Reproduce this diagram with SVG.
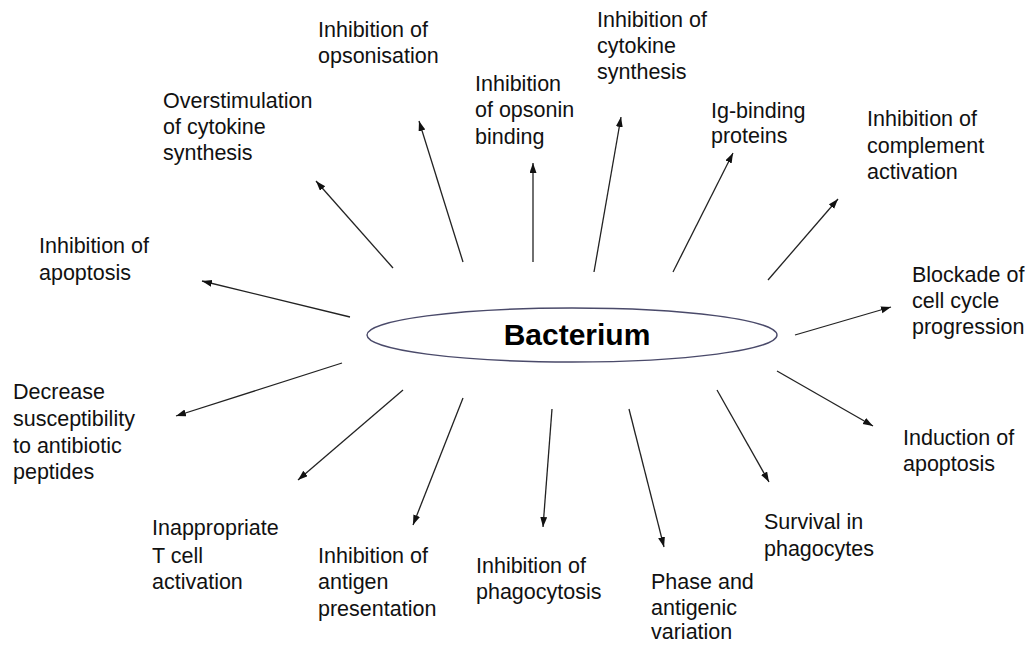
<svg xmlns="http://www.w3.org/2000/svg" width="1031" height="645" viewBox="0 0 1031 645">
<style>
.lbl{font-family:"Liberation Sans",Arial,sans-serif;font-size:21.5px;fill:#111}
.ttl{font-family:"Liberation Sans",Arial,sans-serif;font-size:30px;font-weight:bold;fill:#000}
.arr{stroke:#222;stroke-width:1.3;fill:none;marker-end:url(#ah)}
</style>
<defs>
<marker id="ah" markerUnits="userSpaceOnUse" markerWidth="11" markerHeight="8" refX="10" refY="3.5" orient="auto">
<path d="M0,0 L10,3.5 L0,7 z" fill="#111"/>
</marker>
</defs>
<rect width="1031" height="645" fill="#fff"/>
<g id="bacterium">
<ellipse cx="572" cy="335" rx="205" ry="27" fill="#fff" stroke="#4a4a6a" stroke-width="1.4"/>
<text class="ttl" x="577" y="345" text-anchor="middle">Bacterium</text>
</g>
<g id="connectors">
<line class="arr" x1="393" y1="268" x2="316" y2="181"/>
<line class="arr" x1="463" y1="262" x2="419" y2="121"/>
<line class="arr" x1="533" y1="262" x2="533" y2="163"/>
<line class="arr" x1="594" y1="272" x2="621" y2="117"/>
<line class="arr" x1="673" y1="272" x2="733" y2="153"/>
<line class="arr" x1="768" y1="280" x2="838" y2="199"/>
<line class="arr" x1="795" y1="335" x2="891" y2="307"/>
<line class="arr" x1="777" y1="371" x2="873" y2="426"/>
<line class="arr" x1="717" y1="390" x2="769" y2="482"/>
<line class="arr" x1="629" y1="409" x2="664" y2="547"/>
<line class="arr" x1="552" y1="409" x2="543" y2="527"/>
<line class="arr" x1="463" y1="398" x2="413" y2="525"/>
<line class="arr" x1="403" y1="390" x2="298" y2="480"/>
<line class="arr" x1="342" y1="363" x2="176" y2="416"/>
<line class="arr" x1="350" y1="317" x2="202" y2="281"/>
</g>
<g id="opsonisation"><text class="lbl" x="318" y="37">Inhibition of</text><text class="lbl" x="318" y="63">opsonisation</text></g>
<g id="overstimulation"><text class="lbl" x="163" y="108">Overstimulation</text><text class="lbl" x="163" y="134">of cytokine</text><text class="lbl" x="163" y="160">synthesis</text></g>
<g id="opsonin"><text class="lbl" x="475" y="91">Inhibition</text><text class="lbl" x="475" y="117">of opsonin</text><text class="lbl" x="475" y="144">binding</text></g>
<g id="cytokine"><text class="lbl" x="597" y="27">Inhibition of</text><text class="lbl" x="597" y="53">cytokine</text><text class="lbl" x="597" y="79">synthesis</text></g>
<g id="igbinding"><text class="lbl" x="711" y="118">Ig-binding</text><text class="lbl" x="711" y="143">proteins</text></g>
<g id="complement"><text class="lbl" x="867" y="126">Inhibition of</text><text class="lbl" x="867" y="153">complement</text><text class="lbl" x="867" y="179">activation</text></g>
<g id="blockade"><text class="lbl" x="912" y="282">Blockade of</text><text class="lbl" x="912" y="308">cell cycle</text><text class="lbl" x="912" y="334">progression</text></g>
<g id="induction"><text class="lbl" x="903" y="445">Induction of</text><text class="lbl" x="903" y="471">apoptosis</text></g>
<g id="survival"><text class="lbl" x="764" y="529">Survival in</text><text class="lbl" x="764" y="556">phagocytes</text></g>
<g id="phase"><text class="lbl" x="651" y="589">Phase and</text><text class="lbl" x="651" y="615">antigenic</text><text class="lbl" x="651" y="639">variation</text></g>
<g id="phagocytosis"><text class="lbl" x="476" y="573">Inhibition of</text><text class="lbl" x="476" y="599">phagocytosis</text></g>
<g id="antigen"><text class="lbl" x="318" y="563">Inhibition of</text><text class="lbl" x="318" y="589">antigen</text><text class="lbl" x="318" y="616">presentation</text></g>
<g id="tcell"><text class="lbl" x="152" y="535">Inappropriate</text><text class="lbl" x="152" y="563">T cell</text><text class="lbl" x="152" y="589">activation</text></g>
<g id="decrease"><text class="lbl" x="13" y="399">Decrease</text><text class="lbl" x="13" y="426">susceptibility</text><text class="lbl" x="13" y="453">to antibiotic</text><text class="lbl" x="13" y="479">peptides</text></g>
<g id="inh-apoptosis"><text class="lbl" x="39" y="253">Inhibition of</text><text class="lbl" x="39" y="280">apoptosis</text></g>
</svg>
